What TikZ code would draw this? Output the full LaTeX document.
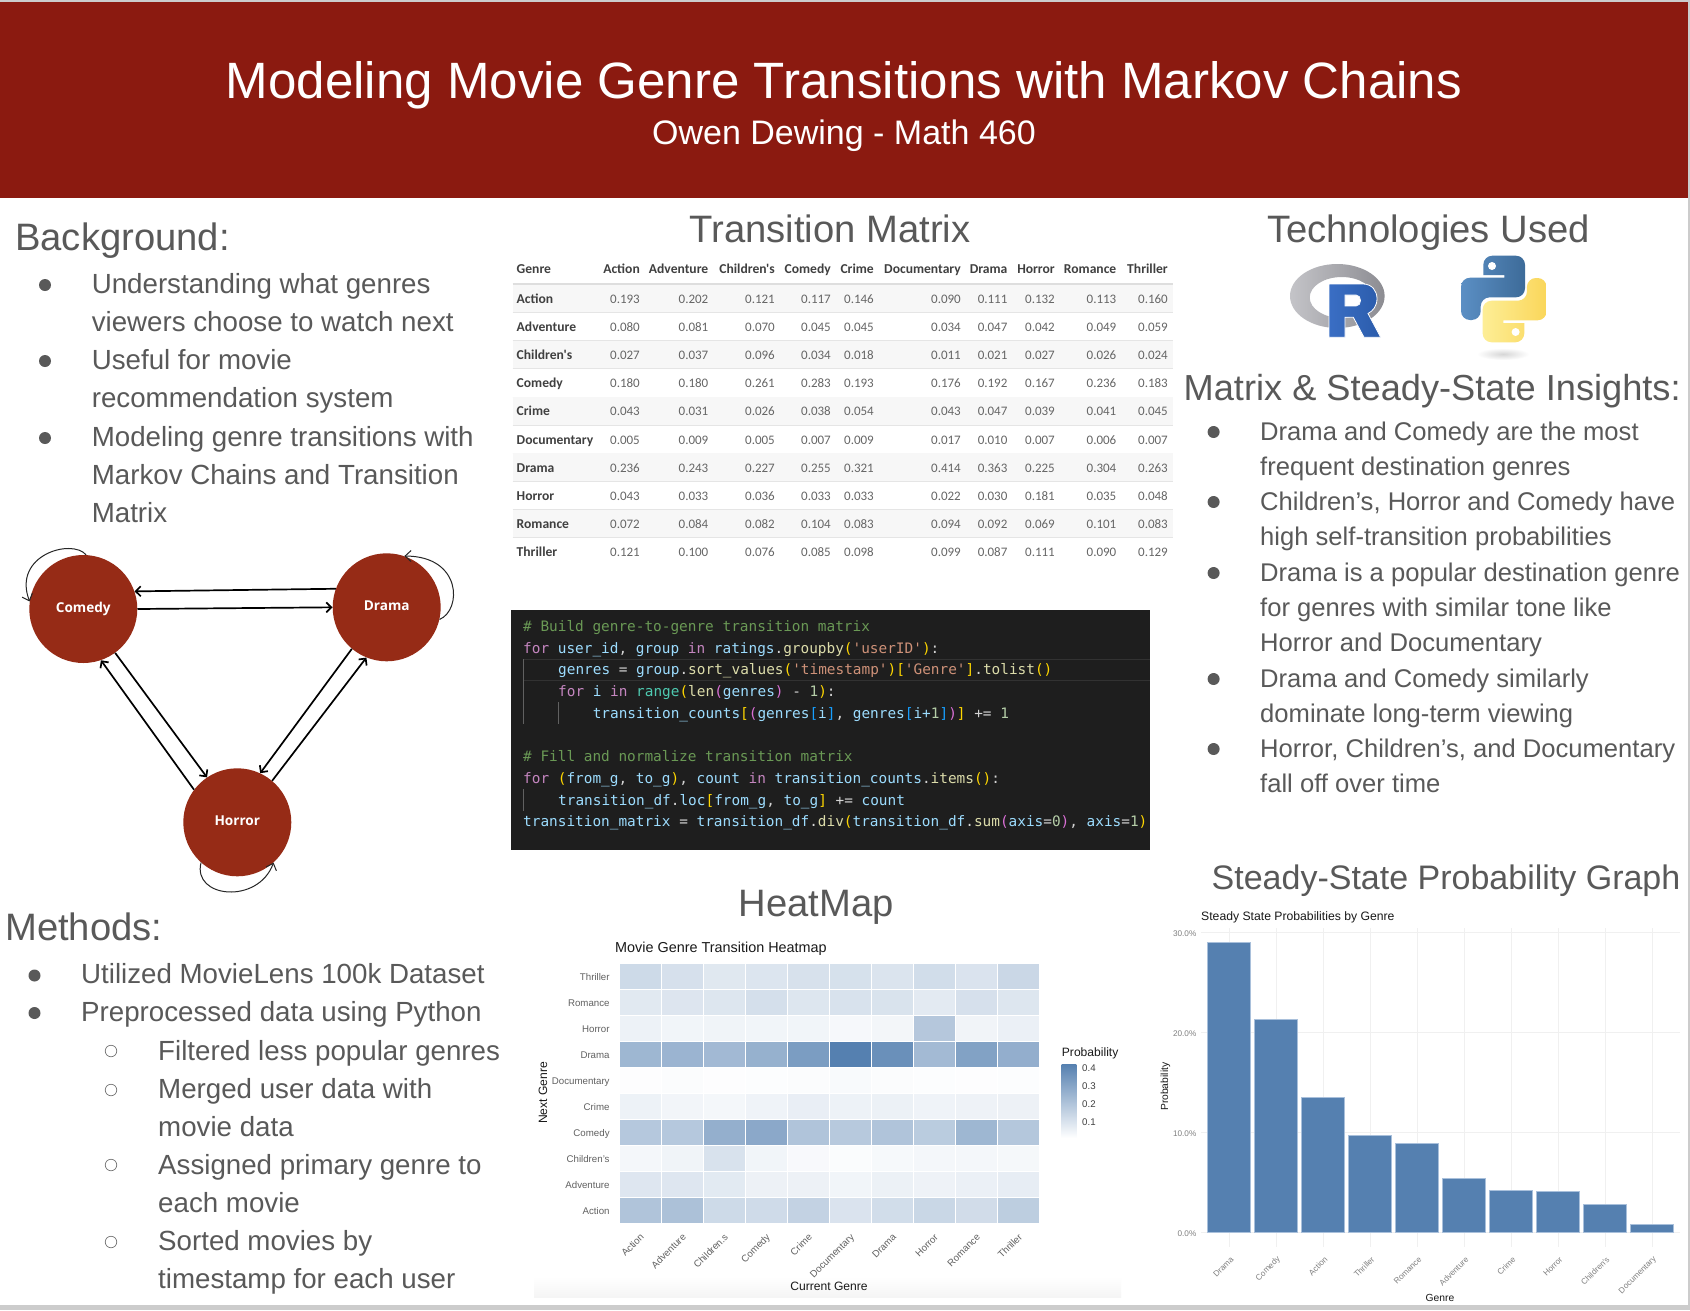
\documentclass[tikz,border=0pt]{standalone}
\usepackage{fontspec}
\setmainfont{Liberation Sans}
\newfontfamily\tablefont{Carlito}
\newfontfamily\codefont{DejaVu Sans Mono}
\newfontfamily\statefont{Open Sans}
\usepackage{xcolor}
\usetikzlibrary{arrows.meta,calc}

\definecolor{bannerred}{HTML}{8B1A10}
\definecolor{statered}{HTML}{962B16}
\definecolor{inkgray}{HTML}{595959}
\definecolor{heatblue}{HTML}{5580B0}
\definecolor{barline}{HTML}{A9C0DB}
\definecolor{ringlight}{HTML}{C4C4C8}
\definecolor{ringdark}{HTML}{8C8C92}
\definecolor{rblue}{HTML}{3A6EC4}
\definecolor{rbluedark}{HTML}{2B5CAB}
\definecolor{pyblue}{HTML}{5B8FC4}
\definecolor{pybluedark}{HTML}{3D6B99}
\definecolor{pyyellow}{HTML}{FDEE96}
\definecolor{pyyellowdark}{HTML}{FAD65A}
\definecolor{codebg}{HTML}{1E1E1E}
\definecolor{codetext}{HTML}{D4D4D4}
\definecolor{codecom}{HTML}{6A9955}
\definecolor{codekw}{HTML}{C586C0}
\definecolor{codevar}{HTML}{9CDCFE}
\definecolor{codestr}{HTML}{CE9178}
\definecolor{codefn}{HTML}{DCDCAA}
\definecolor{codegold}{HTML}{FFD700}
\definecolor{codepur}{HTML}{DA70D6}
\definecolor{codeblue}{HTML}{179FFF}
\definecolor{codeteal}{HTML}{4EC9B0}
\definecolor{codenum}{HTML}{B5CEA8}

\newcommand{\cdkw}[1]{\textcolor{codekw}{#1}}
\newcommand{\cdvar}[1]{\textcolor{codevar}{#1}}
\newcommand{\cdstr}[1]{\textcolor{codestr}{#1}}
\newcommand{\cdfn}[1]{\textcolor{codefn}{#1}}
\newcommand{\cdgold}[1]{\textcolor{codegold}{#1}}
\newcommand{\cdpur}[1]{\textcolor{codepur}{#1}}
\newcommand{\cdblue}[1]{\textcolor{codeblue}{#1}}
\newcommand{\cdnum}[1]{\textcolor{codenum}{#1}}

\def\genredata{Action/{0.193,0.202,0.121,0.117,0.146,0.090,0.111,0.132,0.113,0.160},
Adventure/{0.080,0.081,0.070,0.045,0.045,0.034,0.047,0.042,0.049,0.059},
Children's/{0.027,0.037,0.096,0.034,0.018,0.011,0.021,0.027,0.026,0.024},
Comedy/{0.180,0.180,0.261,0.283,0.193,0.176,0.192,0.167,0.236,0.183},
Crime/{0.043,0.031,0.026,0.038,0.054,0.043,0.047,0.039,0.041,0.045},
Documentary/{0.005,0.009,0.005,0.007,0.009,0.017,0.010,0.007,0.006,0.007},
Drama/{0.236,0.243,0.227,0.255,0.321,0.414,0.363,0.225,0.304,0.263},
Horror/{0.043,0.033,0.036,0.033,0.033,0.022,0.030,0.181,0.035,0.048},
Romance/{0.072,0.084,0.082,0.104,0.083,0.094,0.092,0.069,0.101,0.083},
Thriller/{0.121,0.100,0.076,0.085,0.098,0.099,0.087,0.111,0.090,0.129}}

\begin{document}
\begin{tikzpicture}[
  x=1pt, y=-1pt,
  bannertitle/.style={text=white, font=\fontsize{51.1}{56}\selectfont},
  bannersub/.style={text=white, font=\fontsize{34}{38}\selectfont},
  heading/.style={text=inkgray, inner sep=0pt, font=\fontsize{38.2}{42}\selectfont},
  bodyleft/.style={text=inkgray, inner sep=0pt, anchor=north west, align=left,
    font=\fontsize{27.7}{37.9}\selectfont},
  bodyright/.style={text=inkgray, inner sep=0pt, anchor=north west, align=left,
    font=\fontsize{25.6}{34.8}\selectfont},
  dotmark/.style={circle, fill=inkgray, inner sep=0pt, minimum size=12pt},
  ringmark/.style={circle, draw=black!55, line width=0.7pt, inner sep=0pt, minimum size=11.5pt},
  tablehead/.style={text=black!75, inner sep=0pt, anchor=east, text height=9, text depth=3,
    font=\tablefont\bfseries\fontsize{13.6}{15}\selectfont},
  tablerow/.style={text=black!75, inner sep=0pt, anchor=west, text height=9, text depth=3,
    font=\tablefont\bfseries\fontsize{13.6}{15}\selectfont},
  tablenum/.style={text=black!60, inner sep=0pt, anchor=east, text height=9, text depth=3,
    font=\tablefont\fontsize{13}{15}\selectfont},
  codeline/.style={text=codetext, inner sep=0pt, anchor=base west, font=\codefont\fontsize{14.4}{16}\selectfont},
  state/.style={circle, fill=statered, text=white, inner sep=0pt, minimum size=108pt,
    text height=9.5, text depth=3.5, font=\statefont\bfseries\fontsize{13.6}{16}\selectfont},
  arrow/.style={->, >={Straight Barb[length=5pt,width=10pt]}, line width=1.7pt, black},
  loop/.style={->, >={Straight Barb[length=6pt,width=11pt]}, line width=1pt, black!85},
  plottitle/.style={inner sep=0pt, text=black!90},
  heattick/.style={text=black!62, inner sep=0pt, text height=7.2, text depth=2.2, font=\fontsize{9.7}{11}\selectfont},
  bartick/.style={text=black!50, inner sep=0pt, font=\fontsize{8.2}{10}\selectfont},
  grid/.style={draw=black!6, line width=1pt}
]
\useasboundingbox (0,0) rectangle (1690,1310);
\fill[white] (0,0) rectangle (1690,1310);
\fill[black!20] (0,0) rectangle (1690,2);
\fill[black!20] (1687.5,0) rectangle (1690,1310);
\fill[black!20] (0,1305) rectangle (1690,1310);
\fill[bannerred] (0,2) rectangle (1687.5,198);
\node[bannertitle] (title) at (844,85.5) {Modeling Movie Genre Transitions with Markov Chains};
\node[bannersub] (subtitle) at (844,136) {Owen Dewing - Math 460};

\node[heading, anchor=west] (background) at (15,241) {Background:};
\node[dotmark] (bgdot1) at (45,285) {};
\node[bodyleft] (bgitem1) at (91.6,273.2) {Understanding what genres\\viewers choose to watch next};
\node[dotmark] (bgdot2) at (45,361) {};
\node[bodyleft] (bgitem2) at (91.6,349.2) {Useful for movie\\recommendation system};
\node[dotmark] (bgdot3) at (45,438) {};
\node[bodyleft] (bgitem3) at (91.6,426.5) {Modeling genre transitions with\\Markov Chains and Transition\\Matrix};

\node[state] (comedy) at (83.3,609) {Comedy};
\node[state] (drama) at (386.7,607.3) {Drama};
\node[state] (horror) at (237.3,822.3) {Horror};
\draw[arrow] (drama.160.5) -- (comedy.19.5);
\draw[arrow] (comedy.0) -- (drama.180);
\draw[arrow] (comedy.-54) -- (horror.124);
\draw[arrow] (horror.143.7) -- (comedy.-71);
\draw[arrow] (horror.50.4) -- (drama.248);
\draw[arrow] (drama.230) -- (horror.65.4);
\draw[loop] (comedy.87) .. controls (72,538) and (12,555) .. (comedy.172);
\draw[loop] (drama.-13) .. controls (462,610) and (462,556) .. (drama.71);
\draw[loop] (horror.-132) .. controls (192,898) and (258,905) .. (horror.-48);

\node[heading, anchor=west] (methods) at (5,927) {Methods:};
\node[dotmark] (medot1) at (34.5,975.5) {};
\node[bodyleft] (meitem1) at (81,963.5) {Utilized MovieLens 100k Dataset};
\node[dotmark] (medot2) at (34.5,1013) {};
\node[bodyleft] (meitem2) at (81,1001.5) {Preprocessed data using Python};
\node[ringmark] (medot3) at (111,1051) {};
\node[bodyleft] (meitem3) at (158,1040) {Filtered less popular genres};
\node[ringmark] (medot4) at (111,1090) {};
\node[bodyleft] (meitem4) at (158,1078.5) {Merged user data with\\movie data};
\node[ringmark] (medot5) at (111,1165) {};
\node[bodyleft] (meitem5) at (158,1154) {Assigned primary genre to\\each movie};
\node[ringmark] (medot6) at (111,1242) {};
\node[bodyleft] (meitem6) at (158,1230.5) {Sorted movies by\\timestamp for each user};

\node[heading] (matrixhead) at (830,228.5) {Transition Matrix};
\foreach \gname/\vals [count=\r] in \genredata {
  \pgfmathsetmacro\rowy{298.7+28.1*(\r-1)}
  \ifodd\r \fill[black!3] (512.5,\rowy-14) rectangle (1173,\rowy+14); \fi
  \ifnum\r<10 \draw[black!10, line width=1pt] (512.5,\rowy+14) -- (1173,\rowy+14); \fi
  \node[tablerow] (rowname\r) at (516.5,\rowy+1.8) {\gname};
  \foreach \val [count=\c] in \vals {
    \pgfmathsetmacro\colx{{640,708.5,775,831,874,961,1007.6,1055,1116.5,1168}[\c-1]}
    \node[tablenum] (cell\r-\c) at (\colx,\rowy+1.8) {\val};
  }
}
\draw[black!13, line width=2pt] (512.5,284) -- (1173,284);
\node[tablerow] (colgenre) at (516.5,270.8) {Genre};
\foreach \gname/\colx [count=\c] in {Action/640,Adventure/708.5,Children's/775,Comedy/831,Crime/874,Documentary/961,Drama/1007.6,Horror/1055,Romance/1116.5,Thriller/1168} {
  \node[tablehead] (colname\c) at (\colx,270.8) {\gname};
}

\fill[codebg] (510.5,610) rectangle (1150,850);
\draw[white!9!codebg, line width=1pt] (523,659.5) -- (1150,659.5) (523,680) -- (1150,680);
\draw[white!30!codebg, line width=0.8pt] (523,659) -- (523,724) (558,702) -- (558,724) (523,789) -- (523,811);
\node[codeline] (code1) at (523,631) {\textcolor{codecom}{\# Build genre-to-genre transition matrix}};
\node[codeline] (code2) at (523,653) {\cdkw{for} \cdvar{user\_id}, \cdvar{group} \cdkw{in} \cdvar{ratings}.\cdfn{groupby}\cdgold{(}\cdstr{'userID'}\cdgold{)}:};
\node[codeline] (code3) at (558,674.5) {\cdvar{genres} = \cdvar{group}.\cdfn{sort\_values}\cdgold{(}\cdstr{'timestamp'}\cdgold{)[}\cdstr{'Genre'}\cdgold{]}.\cdfn{tolist}\cdgold{()}};
\node[codeline] (code4) at (558,696) {\cdkw{for} \cdvar{i} \cdkw{in} \textcolor{codeteal}{range}\cdgold{(}\cdfn{len}\cdpur{(}\cdvar{genres}\cdpur{)} - \cdnum{1}\cdgold{)}:};
\node[codeline] (code5) at (592.6,718) {\cdvar{transition\_counts}\cdgold{[}\cdpur{(}\cdvar{genres}\cdblue{[}\cdvar{i}\cdblue{]}, \cdvar{genres}\cdblue{[}\cdvar{i+}\cdnum{1}\cdblue{]}\cdpur{)}\cdgold{]} += \cdnum{1}};
\node[codeline] (code6) at (523,761) {\textcolor{codecom}{\# Fill and normalize transition matrix}};
\node[codeline] (code7) at (523,783) {\cdkw{for} \cdgold{(}\cdvar{from\_g}, \cdvar{to\_g}\cdgold{)}, \cdvar{count} \cdkw{in} \cdvar{transition\_counts}.\cdfn{items}\cdgold{()}:};
\node[codeline] (code8) at (558,805) {\cdvar{transition\_df}.\cdvar{loc}\cdgold{[}\cdvar{from\_g}, \cdvar{to\_g}\cdgold{]} += \cdvar{count}};
\node[codeline] (code9) at (523,826.5) {\cdvar{transition\_matrix} = \cdvar{transition\_df}.\cdfn{div}\cdgold{(}\cdvar{transition\_df}.\cdfn{sum}\cdpur{(}\cdvar{axis}=\cdnum{0}\cdpur{)}, \cdvar{axis}=\cdnum{1}\cdgold{)}};

\node[heading] (heatmaphead) at (816,907) {HeatMap};
\shade[top color=white, bottom color=black!4] (534,1277) rectangle (1121,1297);
\node[plottitle, anchor=west, font=\fontsize{14.4}{16}\selectfont] (heattitle) at (615,948.7) {Movie Genre Transition Heatmap};
\foreach \gname/\vals [count=\r] in \genredata {
  \pgfmathsetmacro\rowy{1223.3-26*\r}
  \foreach \val [count=\c] in \vals {
    \pgfmathsetmacro\pct{\val/0.414*100}
    \pgfmathsetmacro\colx{618.9+42.03*(\c-1)}
    \draw[white, line width=0.15pt, fill=heatblue!\pct!white] (\colx,\rowy) rectangle ++(42.03,26);
  }
  \node[heattick, anchor=east] (heatrow\r) at (609.8,\rowy+14.5) {\gname};
}
\foreach \gname [count=\c] in {Action,Adventure,Children.s,Comedy,Crime,Documentary,Drama,Horror,Romance,Thriller} {
  \pgfmathsetmacro\colx{618.9+42.03*(\c-0.5)+3}
  \node[heattick, anchor=east, rotate=45] (heatcol\c) at (\colx,1236) {\gname};
}
\node[plottitle, font=\fontsize{12.1}{14}\selectfont] (heatxlabel) at (829,1286) {Current Genre};
\node[plottitle, rotate=90, font=\fontsize{12.1}{14}\selectfont] (heatylabel) at (543,1093) {Next Genre};
\node[plottitle, anchor=west, font=\fontsize{12.1}{14}\selectfont] (legendtitle) at (1061.7,1053.5) {Probability};
\shade[top color=heatblue, bottom color=white] (1061.7,1064) rectangle (1076.3,1138);
\foreach \tick/\ypos [count=\c] in {0.4/1068.7,0.3/1086.7,0.2/1104.7,0.1/1122.7} {
  \node[heattick, anchor=west, text=black!75] (legend\c) at (1082,\ypos) {\tick};
}

\node[heading] (techhead) at (1428.5,232.5) {Technologies Used};
\shade[left color=ringlight, right color=ringdark, even odd rule]
  (1337.3,296) ellipse [x radius=47.3, y radius=32]
  (1341.7,297.5) ellipse [x radius=32, y radius=20.5];
\shadedraw[left color=rblue, right color=rbluedark, draw=white, line width=0.8pt, even odd rule]
  (1329,284) -- (1363.3,284) .. controls (1372,284) and (1377,291) .. (1377,298.5)
  .. controls (1377,306) and (1373,311) .. (1368,313.5) -- (1380.7,337.3) -- (1364,337.3)
  -- (1353.3,317.3) -- (1345,317.3) -- (1345,337.3) -- (1329,337.3) -- cycle
  (1345,295) -- (1356,295) .. controls (1362,295) and (1362,306) .. (1356,306) -- (1345,306) -- cycle;
\foreach \ang/\cola/\colb in {0/pyblue/pybluedark,180/pyyellow/pyyellowdark} {
  \begin{scope}[rotate around={\ang:(1503.8,299)}]
    \shade[left color=\cola, right color=\colb]
      (1504.3,277.7) -- (1504.3,275) -- (1483.3,275)
      {[rounded corners=9pt] -- (1483.3,255.7) -- (1525,255.7) -- (1525,297.3) -- (1480.7,297.3)
      -- (1480.7,320) -- (1461,320) -- (1461,277.7)} -- cycle;
    \fill[white] (1492,266) circle (4);
  \end{scope}
}
\shade[shading=radial, inner color=black!16, outer color=white] (1503,354) ellipse [x radius=26, y radius=6];

\node[heading, anchor=west, font=\fontsize{36.2}{40}\selectfont] (insighthead) at (1183.5,391.5) {Matrix \& Steady-State Insights:};
\node[dotmark] (indot1) at (1213.6,432) {};
\node[bodyright] (initem1) at (1260,422) {Drama and Comedy are the most\\frequent destination genres};
\node[dotmark] (indot2) at (1213.6,502) {};
\node[bodyright] (initem2) at (1260,492) {Children’s, Horror and Comedy have\\high self-transition probabilities};
\node[dotmark] (indot3) at (1213.6,573) {};
\node[bodyright] (initem3) at (1260,563) {Drama is a popular destination genre\\for genres with similar tone like\\Horror and Documentary};
\node[dotmark] (indot4) at (1213.6,679) {};
\node[bodyright] (initem4) at (1260,669) {Drama and Comedy similarly\\dominate long-term viewing};
\node[dotmark] (indot5) at (1213.6,749) {};
\node[bodyright] (initem5) at (1260,739) {Horror, Children’s, and Documentary\\fall off over time};

\node[heading, font=\fontsize{34}{38}\selectfont] (steadyhead) at (1446,881) {Steady-State Probability Graph};
\node[plottitle, anchor=west, font=\fontsize{12.2}{14}\selectfont] (bartitle) at (1201,917) {Steady State Probabilities by Genre};
\foreach \ypos in {932.7,1032.3,1132.3,1232.3} { \draw[grid] (1201,\ypos) -- (1680,\ypos); }
\foreach \gname/\ytop [count=\c] in {Drama/942.3,Comedy/1019.7,Action/1097,Thriller/1135,Romance/1143.3,Adventure/1178,Crime/1190.7,Horror/1191.3,Children's/1204.3,Documentary/1224.7} {
  \pgfmathsetmacro\colx{1229.2+47*(\c-1)}
  \draw[grid] (\colx,928) -- (\colx,1246.7);
  \draw[barline, fill=heatblue, line width=1pt] (\colx-21.3,\ytop) rectangle (\colx+21.3,1232.3);
  \node[bartick, anchor=east, rotate=45] (barcol\c) at (\colx+3,1258) {\gname};
}
\foreach \tick/\ypos [count=\c] in {30.0/933.7,20.0/1033.3,10.0/1133.3,0.0/1233.3} {
  \node[bartick, anchor=east] (barrow\c) at (1196.5,\ypos) {\tick\%};
}
\node[plottitle, rotate=90, font=\fontsize{10.3}{12}\selectfont] (barylabel) at (1165.5,1086.7) {Probability};
\node[plottitle, font=\fontsize{10.3}{12}\selectfont] (barxlabel) at (1440,1297.5) {Genre};
\end{tikzpicture}
\end{document}
